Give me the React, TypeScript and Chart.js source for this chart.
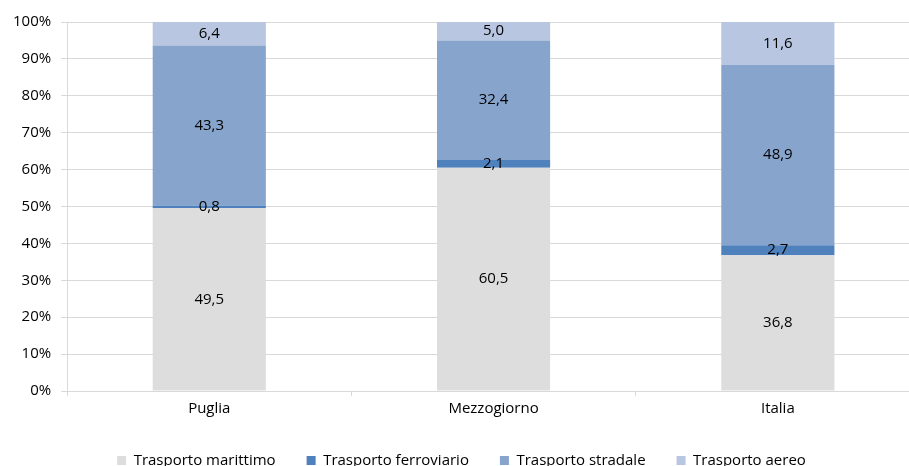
import React, { useEffect, useRef } from "react";
import { Chart, registerables } from "chart.js";

Chart.register(...registerables);

const categories = ["Puglia", "Mezzogiorno", "Italia"];
const seriesNames = ["Trasporto marittimo", "Trasporto ferroviario", "Trasporto stradale", "Trasporto aereo"];
const marittimo = [49.5, 60.5, 36.8];
const ferroviario = [0.8, 2.1, 2.7];
const stradale = [43.3, 32.4, 48.9];
const aereo = [6.4, 5.0, 11.6];
const yTicks = [0, 10, 20, 30, 40, 50, 60, 70, 80, 90, 100];

const colors = ["#DDDDDD", "#4F81BD", "#87A4CC", "#B9C6E1"];
const FONT = "'Open Sans', sans-serif";

const labelPlugin = {
  id: "segLabels",
  afterDatasetsDraw(chart: any) {
    const ctx = chart.ctx;
    ctx.save();
    ctx.font = `15px ${FONT}`;
    ctx.fillStyle = "#000000";
    ctx.textAlign = "center";
    ctx.textBaseline = "middle";
    chart.data.datasets.forEach((ds: any, di: number) => {
      const meta = chart.getDatasetMeta(di);
      meta.data.forEach((bar: any, i: number) => {
        const v = ds.data[i];
        const y = (bar.y + bar.base) / 2;
        ctx.fillText(v.toFixed(1).replace(".", ","), bar.x, y);
      });
    });
    ctx.restore();
  },
};

export default function App() {
  const ref = useRef<HTMLCanvasElement>(null);
  useEffect(() => {
    document.documentElement.style.overflow = "hidden";
    document.body.style.overflow = "hidden";
    const chart = new Chart(ref.current!, {
      type: "bar",
      data: {
        labels: categories,
        datasets: [marittimo, ferroviario, stradale, aereo].map((d, i) => ({
          label: seriesNames[i],
          data: d,
          backgroundColor: colors[i],
          borderWidth: 0,
          barPercentage: 0.398,
          categoryPercentage: 1,
        })),
      },
      options: {
        responsive: false,
        animation: false,
        devicePixelRatio: 1,
        layout: { padding: { left: 3, right: 13, top: 22, bottom: -12 } },
        plugins: {
          tooltip: { enabled: false },
          legend: {
            position: "bottom",
            labels: {
              boxWidth: 9,
              boxHeight: 9,
              padding: 31,
              color: "#000000",
              font: { family: FONT, size: 15 },
            },
          },
        },
        scales: {
          x: {
            stacked: true,
            grid: { display: true, drawOnChartArea: false, offset: true, tickLength: 5, color: "#D9D9D9" },
            border: { color: "#D9D9D9" },
            ticks: { color: "#000000", font: { family: FONT, size: 15 }, padding: 4 },
          },
          y: {
            stacked: true,
            min: 0,
            max: 100,
            afterBuildTicks: (s: any) => {
              s.ticks = yTicks.map((v) => ({ value: v }));
            },
            grid: { color: "#D9D9D9", tickLength: 6 },
            border: { color: "#D9D9D9" },
            ticks: {
              color: "#000000",
              font: { family: FONT, size: 15 },
              padding: 10,
              callback: (v: any) => `${v}%`,
            },
          },
        },
      },
      plugins: [labelPlugin],
    });
    return () => chart.destroy();
  }, []);
  return (
    <div style={{ position: "fixed", left: 0, top: 0, width: 933, height: 466, background: "#fff" }}>
      <canvas ref={ref} width={933} height={466} />
    </div>
  );
}
